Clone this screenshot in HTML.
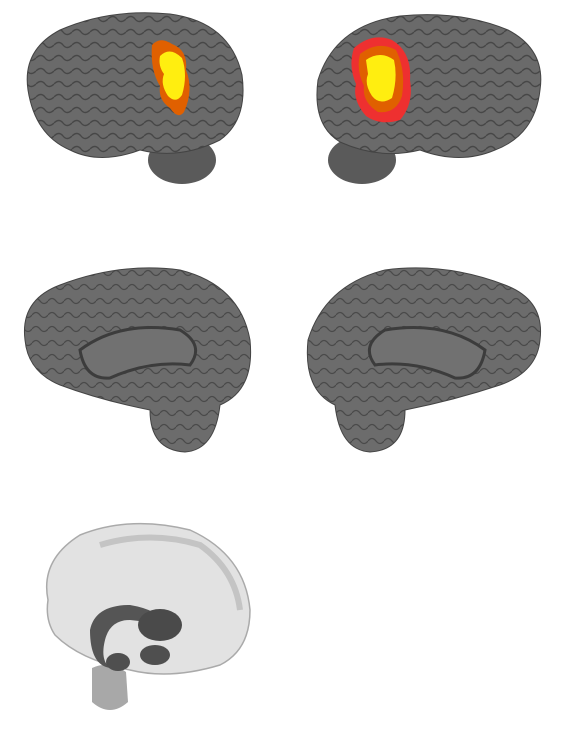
<!DOCTYPE html>
<html><head><meta charset="utf-8"><style>
html,body{margin:0;padding:0;background:#fff;width:572px;height:738px;overflow:hidden}
svg{display:block}
</style></head><body>
<svg width="572" height="738" viewBox="0 0 572 738">
<defs>
<pattern id="gyri" width="18" height="13" patternUnits="userSpaceOnUse">
<rect width="18" height="13" fill="#6a6a6a"/>
<path d="M0 6 Q5 1 9 6 T18 6" stroke="#474747" stroke-width="1.4" fill="none"/>
</pattern>
<pattern id="gyri2" width="16" height="14" patternUnits="userSpaceOnUse">
<rect width="16" height="14" fill="#6c6c6c"/>
<path d="M0 7 Q4 2 8 7 T16 7" stroke="#4a4a4a" stroke-width="1.3" fill="none"/>
</pattern>
</defs>

<g>
<ellipse cx="182" cy="160" rx="34" ry="24" fill="#5a5a5a"/>
<path d="M28 90 Q22 50 60 30 Q110 8 170 14 Q230 22 242 75 Q248 120 220 140 Q180 160 140 150 Q100 165 70 150 Q35 135 28 90Z" fill="url(#gyri)" stroke="#444"/>
<path d="M152 45 Q160 36 172 44 Q188 50 186 70 Q194 90 184 112 Q178 120 170 108 Q158 100 160 86 Q150 70 152 45Z" fill="#e06000"/>
<path d="M160 56 Q170 46 182 58 Q188 75 182 95 Q176 104 168 96 Q160 84 164 74 Q158 66 160 56Z" fill="#ffee10"/>
</g>

<g>
<ellipse cx="362" cy="160" rx="34" ry="24" fill="#5a5a5a"/>
<path d="M540 90 Q546 50 508 30 Q460 10 400 16 Q335 25 318 80 Q312 125 340 142 Q380 160 420 150 Q460 165 495 150 Q535 135 540 90Z" fill="url(#gyri)" stroke="#444"/>
<path d="M354 48 Q372 32 392 40 Q412 52 410 80 Q414 104 400 120 Q380 126 366 116 Q352 100 356 84 Q348 66 354 48Z" fill="#ee3030"/>
<path d="M360 54 Q378 40 396 50 Q406 70 402 96 Q396 114 378 112 Q362 102 364 86 Q356 70 360 54Z" fill="#e06000"/>
<path d="M366 60 Q380 50 394 60 Q398 78 392 98 Q380 106 372 96 Q364 84 368 74Z" fill="#ffee10"/>
</g>

<g>
<path d="M25 340 Q20 300 60 285 Q120 262 180 270 Q240 285 250 340 Q255 390 220 405 Q215 450 185 452 Q150 450 150 410 Q100 400 60 385 Q28 372 25 340Z" fill="url(#gyri2)" stroke="#444"/>
<path d="M80 350 Q120 320 180 330 Q205 345 190 365 Q150 360 110 378 Q85 380 80 350Z" fill="#717171" stroke="#3c3c3c" stroke-width="3"/>
</g>

<g>
<path d="M540 340 Q545 300 505 285 Q445 262 385 270 Q325 285 308 340 Q303 390 335 405 Q340 450 370 452 Q405 450 405 410 Q455 400 500 385 Q537 372 540 340Z" fill="url(#gyri2)" stroke="#444"/>
<path d="M485 350 Q445 320 385 330 Q360 345 375 365 Q415 360 455 378 Q480 380 485 350Z" fill="#717171" stroke="#3c3c3c" stroke-width="3"/>
</g>

<g>
<path d="M48 600 Q40 560 80 535 Q130 515 190 530 Q245 555 250 610 Q250 650 220 665 Q170 680 130 670 Q80 660 55 635 Q45 620 48 600Z" fill="#e2e2e2" stroke="#aaa" stroke-width="1.5"/>
<path d="M100 545 Q150 530 200 545 Q235 570 240 610" stroke="#c4c4c4" stroke-width="6" fill="none"/>
<path d="M92 668 Q110 660 126 672 L128 702 Q110 718 92 702Z" fill="#a8a8a8"/>
<path d="M90 630 Q95 605 130 605 Q160 610 165 625 Q150 622 130 620 Q110 620 105 640 Q100 660 110 668 Q90 665 90 630Z" fill="#555"/>
<ellipse cx="160" cy="625" rx="22" ry="16" fill="#4a4a4a"/>
<ellipse cx="118" cy="662" rx="12" ry="9" fill="#4f4f4f"/>
<ellipse cx="155" cy="655" rx="15" ry="10" fill="#4f4f4f"/>
</g>
</svg>
</body></html>
